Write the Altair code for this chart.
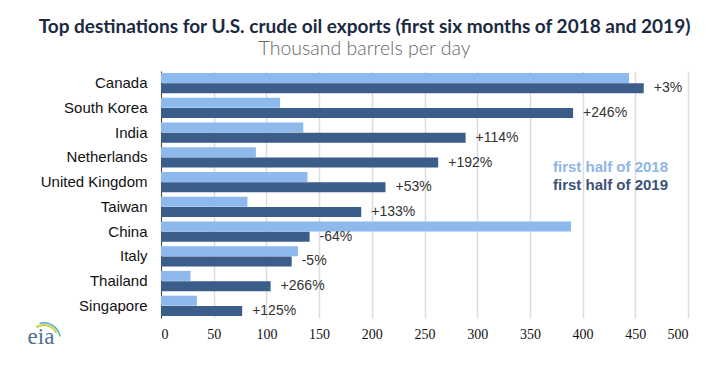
import altair as alt
import pandas as pd

countries = ["Canada", "South Korea", "India", "Netherlands", "United Kingdom",
             "Taiwan", "China", "Italy", "Thailand", "Singapore"]
h2018 = [444, 113, 135, 90, 139, 82, 389, 130, 28, 34]
h2019 = [458, 391, 289, 263, 213, 190, 141, 124, 104, 77]
changes = ["+3%", "+246%", "+114%", "+192%", "+53%", "+133%", "-64%", "-5%", "+266%", "+125%"]
series = ["first half of 2018", "first half of 2019"]
colors = ["#8db9ec", "#3b5d89"]
legend_colors = ["#8fb6e6", "#3b5478"]
x_ticks = [0, 50, 100, 150, 200, 250, 300, 350, 400, 450, 500]

rows = []
for c, a, b, ch in zip(countries, h2018, h2019, changes):
    rows.append({"country": c, "series": series[0], "value": a, "label": ""})
    rows.append({"country": c, "series": series[1], "value": b, "label": ch})
df = pd.DataFrame(rows)

W, H = 527, 247

y_enc = alt.Y("country:N", sort=countries,
              scale=alt.Scale(paddingInner=0.17, paddingOuter=0.08),
              axis=alt.Axis(title=None, ticks=False, labelPadding=14, labelFontSize=15,
                            labelFont="Liberation Sans", labelColor="#111",
                            domainColor="#444", domainWidth=1, grid=False))
yoff = alt.YOffset("series:N", sort=series, scale=alt.Scale(paddingInner=0, paddingOuter=0))

bars = alt.Chart(df).mark_bar(size=10).encode(
    x=alt.X("value:Q", scale=alt.Scale(domain=[0, 500], nice=False),
            axis=alt.Axis(title=None, values=x_ticks, ticks=False, domain=False,
                          labelPadding=9, labelFontSize=14, labelFont="Liberation Sans Narrow",
                          labelColor="#111", gridColor="#dcdcdc", gridWidth=1.5)),
    y=y_enc,
    yOffset=yoff,
    color=alt.Color("series:N", scale=alt.Scale(domain=series, range=colors), legend=None),
)

labels = alt.Chart(df[df["label"] != ""]).mark_text(
    align="left", baseline="middle", dx=10, fontSize=14, font="Liberation Sans", color="#333"
).encode(
    x="value:Q", y=alt.Y("country:N", sort=countries), yOffset=yoff, text="label:N"
)

leg_layers = []
for t, col, yy in zip(series, legend_colors, [96, 114]):
    leg_layers.append(
        alt.Chart(pd.DataFrame({"t": [t]})).mark_text(
            align="left", baseline="middle", fontSize=15, fontWeight="bold",
            font="Liberation Sans", color=col
        ).encode(x=alt.value(392), y=alt.value(yy), text="t:N")
    )

logo_text = alt.Chart(pd.DataFrame({"t": ["eia"]})).mark_text(
    align="center", baseline="alphabetic", fontSize=23, font="Liberation Serif", color="#4f6f8f"
).encode(x=alt.value(-120), y=alt.value(273), text="t:N")

logo_arc1 = alt.Chart(pd.DataFrame({"t": ["a"]})).mark_arc(
    radius=13, radius2=15, theta=5.7, theta2=7.4, color="#c5d43a"
).encode(x=alt.value(-117), y=alt.value(268))
logo_arc2 = alt.Chart(pd.DataFrame({"t": ["a"]})).mark_arc(
    radius=15.5, radius2=17, theta=6.0, theta2=7.7, color="#5aa9d6"
).encode(x=alt.value(-117), y=alt.value(268))

chart = alt.layer(bars, labels, *leg_layers, logo_arc1, logo_arc2, logo_text).properties(
    width=W, height=H,
    autosize=alt.AutoSizeParams(type="none"),
    padding={"left": 153, "top": 63, "right": 20, "bottom": 40},
    title=alt.TitleParams(
        text="Top destinations for U.S. crude oil exports (first six months of 2018 and 2019)",
        subtitle="Thousand barrels per day",
        anchor="middle", dx=-60, offset=13,
        font="Lato", fontSize=19, fontWeight="bold", color="#1b2a41",
        subtitleFont="Lato", subtitleFontSize=19.5, subtitleFontWeight=300,
        subtitleColor="#666666", subtitlePadding=3,
    ),
).configure_view(stroke=None)

chart.save("out.html", embed_options={"renderer": "svg", "actions": False})
